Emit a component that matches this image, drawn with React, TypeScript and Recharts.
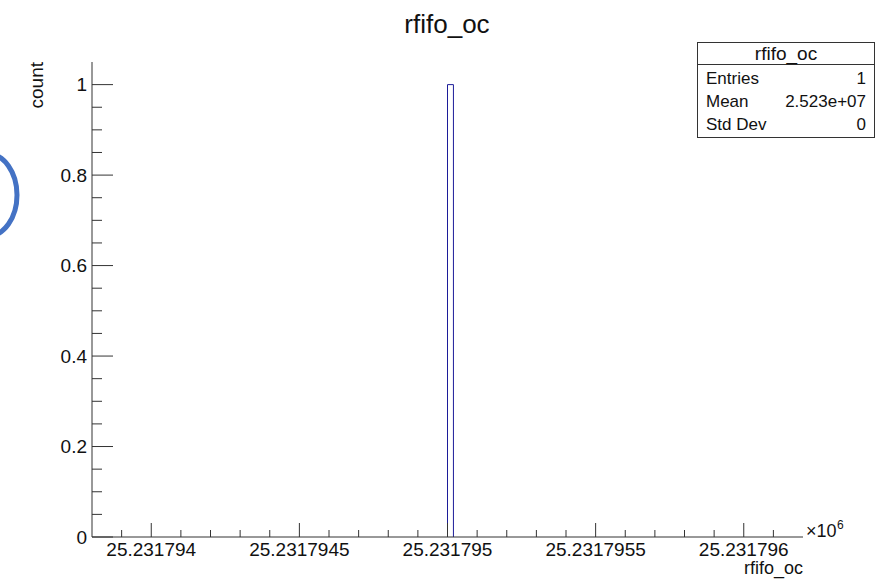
import { ComposedChart, Line, XAxis, YAxis } from 'recharts';

// histogram: 120 bins of width 0.02 over the x range, only one bin is filled
const xRange = [25231793.8, 25231796.2];
const binWidth = 0.02;
const filledBinLow = [25231795];
const filledBinCount = [1];

const xMajorTicks = [25231794, 25231794.5, 25231795, 25231795.5, 25231796];
const xTickLabels = ['25.231794', '25.2317945', '25.231795', '25.2317955', '25.231796'];
const yMajorTicks = [0, 0.2, 0.4, 0.6, 0.8, 1];
const yTickLabels = ['0', '0.2', '0.4', '0.6', '0.8', '1'];

const statNames = ['Entries', 'Mean', 'Std Dev'];
const statValues = ['1', '2.523e+07', '0'];

const FONT = '"Liberation Sans", Arial, Helvetica, sans-serif';
const INK = '#333';
const HIST = '#1c1c99';

// outline points of the filled bins
const histData: { x: number; y: number }[] = [];
filledBinLow.forEach((lo, i) => {
  histData.push({ x: lo, y: 0 });
  histData.push({ x: lo, y: filledBinCount[i] });
  histData.push({ x: lo + binWidth, y: filledBinCount[i] });
  histData.push({ x: lo + binWidth, y: 0 });
});

// minor ticks every 0.1 on x, 0.05 on y
const xMinor: number[] = [];
for (let k = 1; k < 24; k++) xMinor.push(xRange[0] + k * 0.1);
const yMinor: number[] = [];
for (let k = 1; k < 21; k++) yMinor.push(k * 0.05);

const xTicks = [...xMajorTicks, ...xMinor.filter((v) => !xMajorTicks.some((m) => Math.abs(m - v) < 1e-3))];
const yTicks = [...yMajorTicks, ...yMinor.filter((v) => !yMajorTicks.some((m) => Math.abs(m - v) < 1e-6))];

const XTick = ({ x, y, payload }: any) => {
  const idx = xMajorTicks.findIndex((m) => Math.abs(m - payload.value) < 1e-3);
  const major = idx >= 0;
  return (
    <g>
      <line x1={x} x2={x} y1={y} y2={y - (major ? 14 : 7)} stroke={INK} strokeWidth={1} />
      {major && (
        <text x={x} y={y + 19} textAnchor="middle" fontSize={19} fontFamily={FONT} fill="#111">
          {xTickLabels[idx]}
        </text>
      )}
    </g>
  );
};

const YTick = ({ x, y, payload }: any) => {
  const idx = yMajorTicks.findIndex((m) => Math.abs(m - payload.value) < 1e-6);
  const major = idx >= 0;
  return (
    <g>
      <line x1={x} x2={x + (major ? 21 : 10)} y1={y} y2={y} stroke={INK} strokeWidth={1} />
      {major && (
        <text x={x - 5} y={y} dy="0.36em" textAnchor="end" fontSize={19} fontFamily={FONT} fill="#111">
          {yTickLabels[idx]}
        </text>
      )}
    </g>
  );
};

const Overlay = () => (
  <svg width={884} height={579} style={{ position: 'absolute', left: 0, top: 0, pointerEvents: 'none' }}>
    <ellipse cx={-12} cy={195} rx={29} ry={41} fill="none" stroke="#4472c4" strokeWidth={5} />
    <text x={447} y={33} textAnchor="middle" fontSize={26} fontFamily={FONT} fill="#111">
      rfifo_oc
    </text>
    <text transform="translate(43,62) rotate(-90)" textAnchor="end" fontSize={19} fontFamily={FONT} fill="#111">
      count
    </text>
    <text x={806} y={537} fontSize={18} fontFamily={FONT} fill="#111">
      ×10
    </text>
    <text x={837} y={529} fontSize={12} fontFamily={FONT} fill="#111">
      6
    </text>
    <text x={803} y={574} textAnchor="end" fontSize={18} fontFamily={FONT} fill="#111">
      rfifo_oc
    </text>
    <rect x={697.5} y={42.5} width={177} height={95} fill="#fff" stroke={INK} strokeWidth={1} />
    <line x1={697.5} x2={874.5} y1={64.5} y2={64.5} stroke={INK} strokeWidth={1} />
    <text x={786} y={60} textAnchor="middle" fontSize={19} fontFamily={FONT} fill="#111">
      rfifo_oc
    </text>
    {statNames.map((name, i) => (
      <g key={name}>
        <text x={706} y={84 + i * 23} fontSize={17} fontFamily={FONT} fill="#111">
          {name}
        </text>
        <text x={866} y={84 + i * 23} textAnchor="end" fontSize={17} fontFamily={FONT} fill="#111">
          {statValues[i]}
        </text>
      </g>
    ))}
  </svg>
);

export default function App() {
  return (
    <div style={{ position: 'absolute', left: 0, top: 0, width: 884, height: 579, background: '#fff' }}>
      <ComposedChart width={884} height={579} data={histData} margin={{ top: 62, right: 81, bottom: 0, left: 0 }}>
        <XAxis
          dataKey="x"
          type="number"
          domain={xRange}
          allowDataOverflow
          ticks={xTicks}
          interval={0}
          height={42}
          tickSize={0}
          tickMargin={0}
          tickLine={false}
          axisLine={{ stroke: INK }}
          tick={<XTick />}
        />
        <XAxis
          xAxisId="top"
          orientation="top"
          type="number"
          domain={xRange}
          height={0}
          tick={false}
          tickLine={false}
          axisLine={{ stroke: INK }}
        />
        <YAxis
          type="number"
          domain={[0, 1.05]}
          allowDataOverflow
          ticks={yTicks}
          interval={0}
          width={92}
          tickSize={0}
          tickMargin={0}
          tickLine={false}
          axisLine={{ stroke: INK }}
          tick={<YTick />}
        />
        <YAxis
          yAxisId="right"
          orientation="right"
          type="number"
          domain={[0, 1.05]}
          width={0}
          tick={false}
          tickLine={false}
          axisLine={{ stroke: INK }}
        />
        <Line
          dataKey="y"
          type="linear"
          stroke={HIST}
          strokeWidth={1}
          dot={false}
          activeDot={false}
          isAnimationActive={false}
        />
      </ComposedChart>
      <Overlay />
    </div>
  );
}
